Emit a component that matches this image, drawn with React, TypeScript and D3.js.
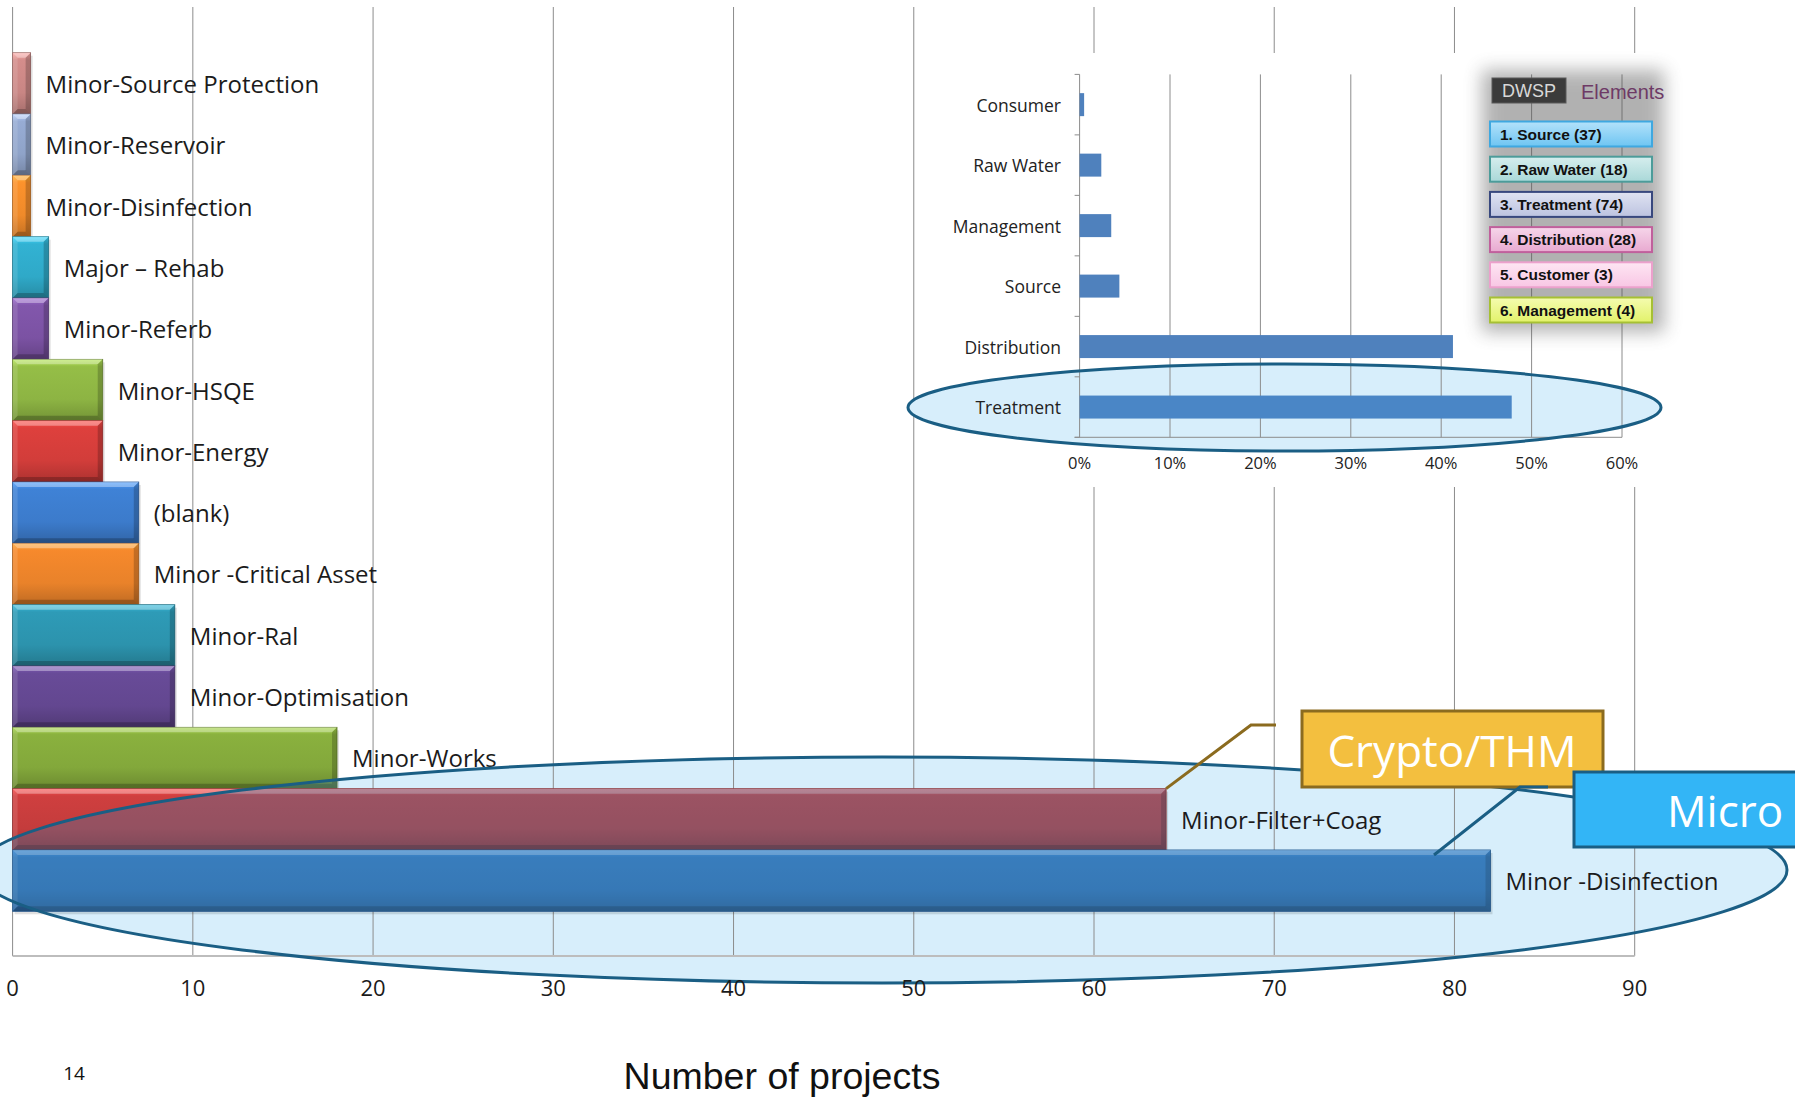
import * as d3 from "d3";
import { useEffect, useRef } from "react";

// main chart: number of projects per category
const categories = [
  "Minor-Source Protection",
  "Minor-Reservoir",
  "Minor-Disinfection",
  "Major – Rehab",
  "Minor-Referb",
  "Minor-HSQE",
  "Minor-Energy",
  "(blank)",
  "Minor -Critical Asset",
  "Minor-Ral",
  "Minor-Optimisation",
  "Minor-Works",
  "Minor-Filter+Coag",
  "Minor -Disinfection",
];
const projectCounts = [1, 1, 1, 2, 2, 5, 5, 7, 7, 9, 9, 18, 64, 82];
const barColors = [
  "#c98684", "#8fa3c9", "#ef8a2a", "#2fa9c8", "#7b52a3", "#8db443", "#d23d3a",
  "#3c7bcb", "#e9822a", "#2c93ad", "#634790", "#83a83b", "#c43c3c", "#3479bf",
];
const countTicks = [0, 10, 20, 30, 40, 50, 60, 70, 80, 90];

// inset chart: share per DWSP element
const elementNames = ["Consumer", "Raw Water", "Management", "Source", "Distribution", "Treatment"];
const elementShares = [0.5, 2.4, 3.5, 4.4, 41.3, 47.8];
const shareTicks = [0, 10, 20, 30, 40, 50, 60];

// DWSP elements legend
const legendItems = [
  "1. Source (37)",
  "2. Raw Water (18)",
  "3. Treatment (74)",
  "4. Distribution (28)",
  "5. Customer (3)",
  "6. Management (4)",
];
const legendTop = ["#b4e2fa", "#d6eeee", "#e0e3f2", "#f6d6ea", "#fee6f3", "#f5fcb0"];
const legendBottom = ["#6ec5f2", "#a9d8d8", "#bcc3e0", "#e8a9d0", "#f8c6e4", "#e2f26a"];
const legendStroke = ["#3fa8e0", "#4c9c9a", "#38487e", "#c0609c", "#eca0cc", "#a6c034"];

const FONT = "'Open Sans', 'Noto Sans', sans-serif";
const ARIAL = "'Liberation Sans', Arial, sans-serif";

export default function App() {
  const svgRef = useRef<SVGSVGElement>(null);
  const width = 1795;
  const height = 1097;

  useEffect(() => {
    const svg = d3.select(svgRef.current).attr("viewBox", `0 0 ${width} ${height}`);
    svg.selectAll("*").remove();
    const defs = svg.append("defs");

    svg.append("rect").attr("width", width).attr("height", height).attr("fill", "#fff");

    // ---- main chart ----
    const x = d3.scaleLinear().domain([0, 90]).range([12.6, 1634.7]);
    const y = d3.scaleBand<string>().domain(categories).range([52.7, 911.3]).padding(0);
    const plotTop = 7;
    const plotBottom = 956;
    const ell = { cx: 882, cy: 870, rx: 905, ry: 113 };

    defs.append("clipPath").attr("id", "mainEll")
      .append("ellipse")
      .attr("cx", ell.cx).attr("cy", ell.cy).attr("rx", ell.rx).attr("ry", ell.ry);

    svg.append("ellipse")
      .attr("cx", ell.cx).attr("cy", ell.cy).attr("rx", ell.rx).attr("ry", ell.ry)
      .attr("fill", "#d7eefb");

    svg.append("g").selectAll("line").data(countTicks).join("line")
      .attr("x1", d => x(d)).attr("x2", d => x(d))
      .attr("y1", plotTop).attr("y2", plotBottom)
      .attr("stroke", "#8c8c8c").attr("stroke-width", 1);

    svg.append("line")
      .attr("x1", x(0)).attr("x2", x(90)).attr("y1", plotBottom).attr("y2", plotBottom)
      .attr("stroke", "#bdbdbd").attr("stroke-width", 2);

    // bars with a bevel look
    const bars = svg.append("g");
    categories.forEach((c, i) => {
      const base = barColors[i];
      const gid = `bar-grad-${i}`;
      const grad = defs.append("linearGradient").attr("id", gid)
        .attr("x1", 0).attr("y1", 0).attr("x2", 0).attr("y2", 1);
      grad.append("stop").attr("offset", "0%").attr("stop-color", d3.color(base)!.brighter(0.7).formatHex());
      grad.append("stop").attr("offset", "12%").attr("stop-color", d3.color(base)!.brighter(0.15).formatHex());
      grad.append("stop").attr("offset", "65%").attr("stop-color", base);
      grad.append("stop").attr("offset", "100%").attr("stop-color", d3.color(base)!.darker(0.55).formatHex());

      const x0 = x(0);
      const x1 = x(projectCounts[i]);
      const y0 = y(c)!;
      const y1 = y0 + y.bandwidth();
      const b = Math.min(5, (x1 - x0) / 2);

      bars.append("rect")
        .attr("x", x0 + 2).attr("y", y0 + 3).attr("width", x1 - x0).attr("height", y1 - y0)
        .attr("fill", "#000").attr("opacity", 0.12);
      bars.append("rect")
        .attr("x", x0).attr("y", y0).attr("width", x1 - x0).attr("height", y1 - y0)
        .attr("fill", `url(#${gid})`)
        .attr("stroke", d3.color(base)!.darker(0.8).formatHex()).attr("stroke-width", 0.8);

      const bevels: [number[][], string, number][] = [
        [[[x0, y0], [x1, y0], [x1 - b, y0 + b], [x0 + b, y0 + b]], "#fff", 0.35],
        [[[x0, y1], [x1, y1], [x1 - b, y1 - b], [x0 + b, y1 - b]], "#000", 0.22],
        [[[x0, y0], [x0 + b, y0 + b], [x0 + b, y1 - b], [x0, y1]], "#fff", 0.12],
        [[[x1, y0], [x1 - b, y0 + b], [x1 - b, y1 - b], [x1, y1]], "#000", 0.2],
      ];
      bevels.forEach(([pts, fill, op]) => {
        bars.append("polygon")
          .attr("points", pts.map(p => p.join(",")).join(" "))
          .attr("fill", fill).attr("opacity", op);
      });

      // tint where the highlight ellipse sits over the bar
      bars.append("rect")
        .attr("x", x0).attr("y", y0).attr("width", x1 - x0).attr("height", y1 - y0)
        .attr("clip-path", "url(#mainEll)")
        .attr("fill", "rgb(60,120,165)").attr("opacity", 0.35);
    });

    svg.append("g").selectAll("text").data(categories).join("text")
      .attr("x", (d, i) => x(projectCounts[i]) + 15)
      .attr("y", d => y(d)! + y.bandwidth() / 2)
      .attr("dominant-baseline", "central")
      .attr("font-family", FONT).attr("font-size", 24).attr("fill", "#1b1b1b")
      .text(d => d);

    svg.append("ellipse")
      .attr("cx", ell.cx).attr("cy", ell.cy).attr("rx", ell.rx).attr("ry", ell.ry)
      .attr("fill", "none").attr("stroke", "#1a5e84").attr("stroke-width", 3);

    svg.append("g").selectAll("text").data(countTicks).join("text")
      .attr("x", d => x(d)).attr("y", 987)
      .attr("text-anchor", "middle").attr("dominant-baseline", "central")
      .attr("font-family", FONT).attr("font-size", 22).attr("fill", "#1b1b1b")
      .text(d => d);

    // ---- inset chart ----
    svg.append("rect")
      .attr("x", 922).attr("y", 53).attr("width", 755).attr("height", 434)
      .attr("fill", "#fff");

    const ix = d3.scaleLinear().domain([0, 60]).range([1079.6, 1622]);
    const iy = d3.scaleBand<string>().domain(elementNames).range([74.4, 437.3])
      .paddingInner(0.62).paddingOuter(0.31);
    const iTop = 74.4;
    const iBottom = 437.3;
    const iell = { cx: 1284.5, cy: 407.5, rx: 376.5, ry: 43.5 };

    svg.append("ellipse")
      .attr("cx", iell.cx).attr("cy", iell.cy).attr("rx", iell.rx).attr("ry", iell.ry)
      .attr("fill", "#d7eefb");

    const inset = svg.append("g");
    inset.selectAll("line.grid").data(shareTicks.slice(1)).join("line")
      .attr("class", "grid")
      .attr("x1", d => ix(d)).attr("x2", d => ix(d))
      .attr("y1", iTop).attr("y2", iBottom)
      .attr("stroke", "#8c8c8c").attr("stroke-width", 1);
    inset.append("line")
      .attr("x1", ix(0)).attr("x2", ix(0)).attr("y1", iTop).attr("y2", iBottom)
      .attr("stroke", "#8c8c8c");
    inset.append("line")
      .attr("x1", ix(0) - 5).attr("x2", ix(60)).attr("y1", iBottom).attr("y2", iBottom)
      .attr("stroke", "#8c8c8c");
    inset.selectAll("line.tick").data(d3.range(elementNames.length + 1)).join("line")
      .attr("class", "tick")
      .attr("x1", ix(0) - 5).attr("x2", ix(0))
      .attr("y1", k => iTop + k * iy.step()).attr("y2", k => iTop + k * iy.step())
      .attr("stroke", "#8c8c8c");

    inset.selectAll("rect.bar").data(elementNames).join("rect")
      .attr("class", "bar")
      .attr("x", ix(0)).attr("y", d => iy(d)!)
      .attr("width", (d, i) => ix(elementShares[i]) - ix(0))
      .attr("height", iy.bandwidth())
      .attr("fill", d => (d === "Treatment" ? "#4a86c6" : "#4f81bd"));

    inset.selectAll("text.cat").data(elementNames).join("text")
      .attr("class", "cat")
      .attr("x", 1061).attr("y", d => iy(d)! + iy.bandwidth() / 2)
      .attr("text-anchor", "end").attr("dominant-baseline", "central")
      .attr("font-family", FONT).attr("font-size", 17.5).attr("fill", "#222")
      .text(d => d);

    inset.selectAll("text.tk").data(shareTicks).join("text")
      .attr("class", "tk")
      .attr("x", d => ix(d)).attr("y", 462.5)
      .attr("text-anchor", "middle").attr("dominant-baseline", "central")
      .attr("font-family", FONT).attr("font-size", 16.5).attr("fill", "#222")
      .text(d => `${d}%`);

    svg.append("ellipse")
      .attr("cx", iell.cx).attr("cy", iell.cy).attr("rx", iell.rx).attr("ry", iell.ry)
      .attr("fill", "none").attr("stroke", "#1a5e84").attr("stroke-width", 3);

    // ---- DWSP legend ----
    const blur = defs.append("filter").attr("id", "legendBlur")
      .attr("x", "-30%").attr("y", "-30%").attr("width", "160%").attr("height", "160%");
    blur.append("feGaussianBlur").attr("stdDeviation", 9);
    svg.append("rect")
      .attr("x", 1482).attr("y", 70).attr("width", 182).attr("height", 262)
      .attr("fill", "#555").attr("opacity", 0.45).attr("filter", "url(#legendBlur)");

    svg.append("rect")
      .attr("x", 1492).attr("y", 78).attr("width", 74).attr("height", 25)
      .attr("fill", "#3b3b3b").attr("stroke", "#5a5a5a");
    svg.append("text")
      .attr("x", 1529).attr("y", 91).attr("text-anchor", "middle").attr("dominant-baseline", "central")
      .attr("font-family", ARIAL).attr("font-size", 18)
      .attr("fill", "#d8d8d8").text("DWSP");
    svg.append("text")
      .attr("x", 1581).attr("y", 92).attr("dominant-baseline", "central")
      .attr("font-family", ARIAL).attr("font-size", 20)
      .attr("fill", "#6e3a66").text("Elements");

    const ly = d3.scalePoint<string>().domain(legendItems).range([134, 310]);
    legendItems.forEach((item, i) => {
      const gid = `leg-grad-${i}`;
      const g = defs.append("linearGradient").attr("id", gid)
        .attr("x1", 0).attr("y1", 0).attr("x2", 0).attr("y2", 1);
      g.append("stop").attr("offset", "0%").attr("stop-color", legendTop[i]);
      g.append("stop").attr("offset", "100%").attr("stop-color", legendBottom[i]);
      const cy = ly(item)!;
      svg.append("rect")
        .attr("x", 1490).attr("y", cy - 12.5).attr("width", 162).attr("height", 25)
        .attr("fill", `url(#${gid})`).attr("stroke", legendStroke[i]).attr("stroke-width", 2);
      svg.append("text")
        .attr("x", 1500).attr("y", cy).attr("dominant-baseline", "central")
        .attr("font-family", ARIAL).attr("font-size", 15.5)
        .attr("font-weight", "bold").attr("fill", "#111").text(item);
    });

    // ---- callouts ----
    const fTop = y("Minor-Filter+Coag")!;
    const dTop = y("Minor -Disinfection")!;
    svg.append("polyline")
      .attr("points", `${x(64)},${fTop} 1251,725 1276,725`)
      .attr("fill", "none").attr("stroke", "#8b6b1f").attr("stroke-width", 3);
    svg.append("rect")
      .attr("x", 1302).attr("y", 711).attr("width", 301).attr("height", 76)
      .attr("fill", "#f3bf3f").attr("stroke", "#8b6b1f").attr("stroke-width", 3);
    svg.append("text")
      .attr("x", 1452).attr("y", 750).attr("text-anchor", "middle").attr("dominant-baseline", "central")
      .attr("font-family", FONT).attr("font-size", 44).attr("fill", "#fff").text("Crypto/THM");

    svg.append("polyline")
      .attr("points", `1434,${dTop + 5} 1520,787 1548,787`)
      .attr("fill", "none").attr("stroke", "#1a5e84").attr("stroke-width", 3);
    svg.append("rect")
      .attr("x", 1574).attr("y", 772).attr("width", 260).attr("height", 75)
      .attr("fill", "#33b5f6").attr("stroke", "#1a5e84").attr("stroke-width", 3);
    svg.append("text")
      .attr("x", 1667).attr("y", 810).attr("dominant-baseline", "central")
      .attr("font-family", FONT).attr("font-size", 44).attr("fill", "#fff").text("Micro");

    // ---- footer ----
    svg.append("text")
      .attr("x", 782).attr("y", 1076).attr("text-anchor", "middle").attr("dominant-baseline", "central")
      .attr("font-family", ARIAL).attr("font-size", 37.5)
      .attr("fill", "#111").text("Number of projects");
    svg.append("text")
      .attr("x", 74).attr("y", 1073).attr("text-anchor", "middle").attr("dominant-baseline", "central")
      .attr("font-family", FONT).attr("font-size", 19).attr("fill", "#111").text("14");
  }, []);

  return (
    <div style={{ position: "absolute", left: 0, top: 0, width, height, overflow: "hidden" }}>
      <svg ref={svgRef} width={width} height={height} style={{ display: "block" }}></svg>
    </div>
  );
}
